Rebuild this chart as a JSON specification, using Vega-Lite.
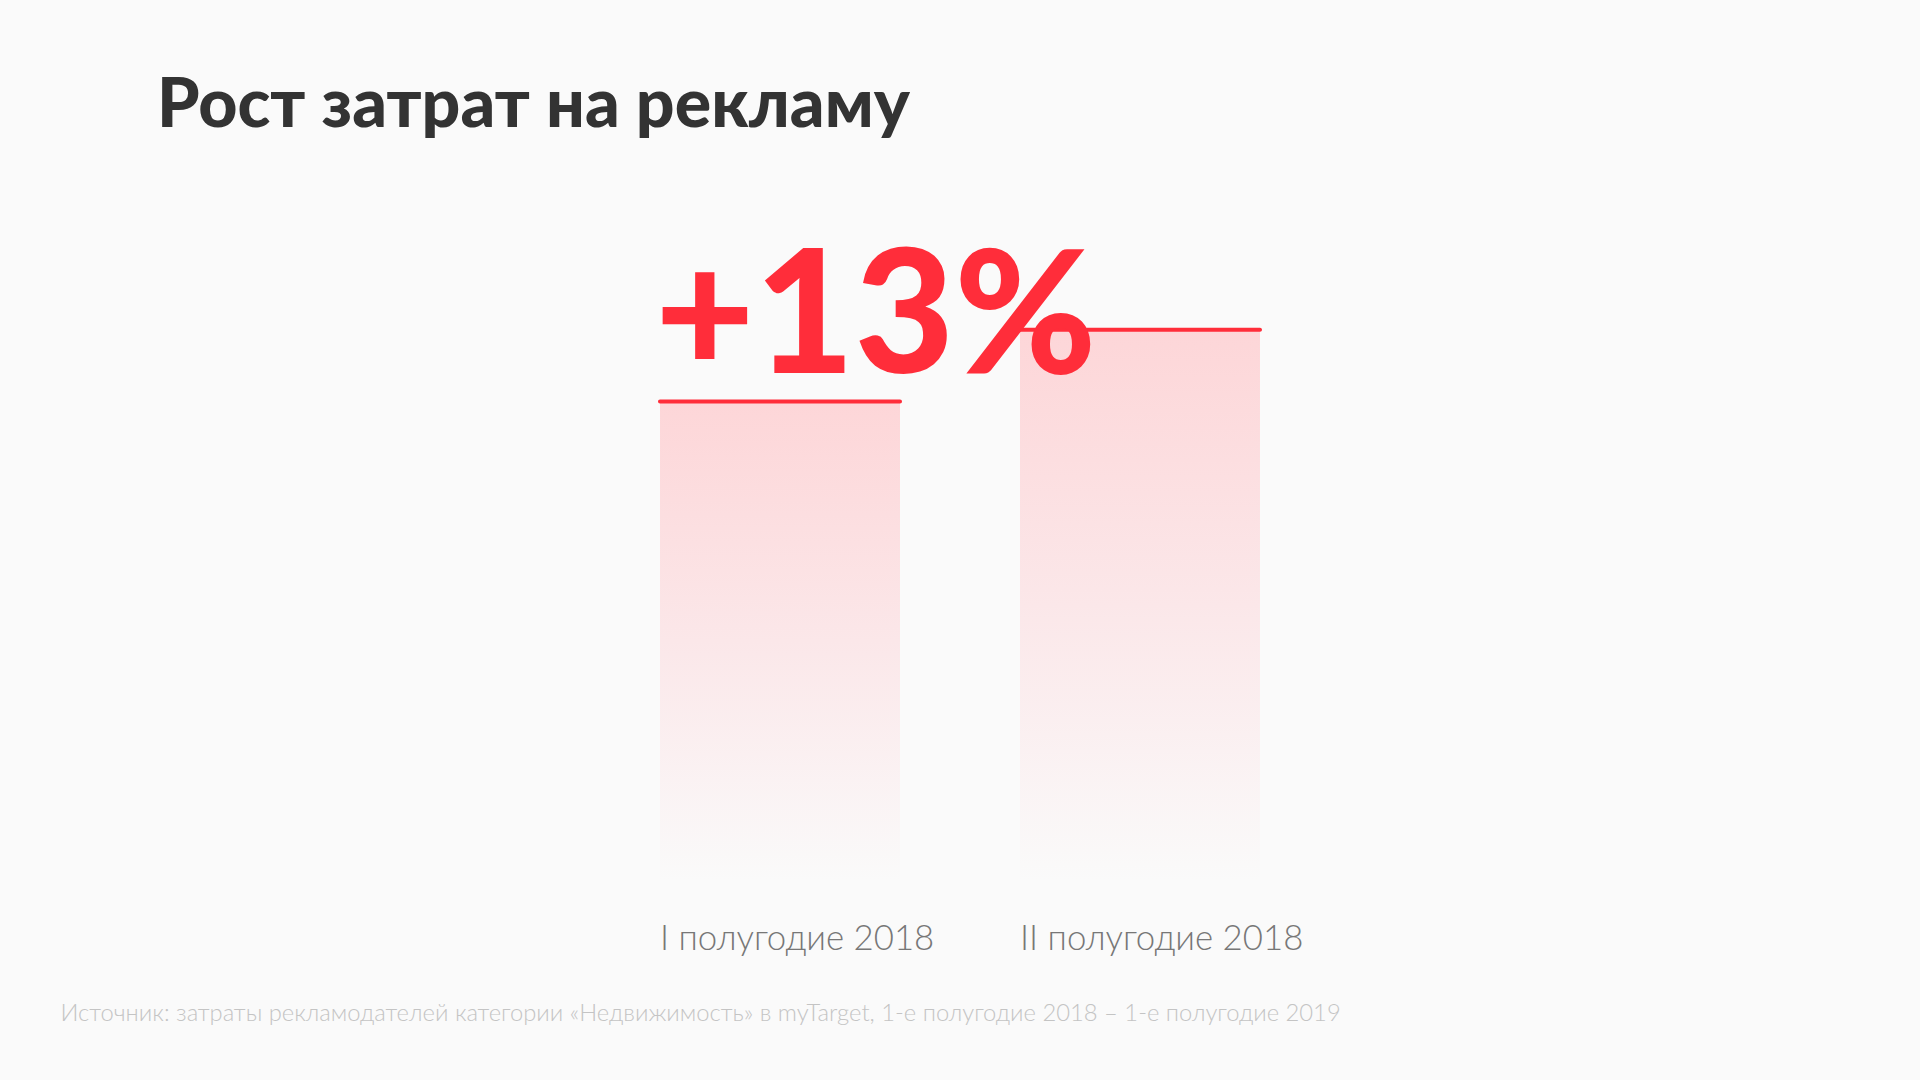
{
  "$schema": "https://vega.github.io/schema/vega-lite/v6.json",
  "width": 720,
  "height": 720,
  "autosize": "none",
  "padding": {"left": 600, "top": 160, "right": 600, "bottom": 200},
  "background": "#fafafa",
  "config": {"view": {"stroke": null}},
  "title": {
    "text": "Рост затрат на рекламу",
    "anchor": "start",
    "frame": "group",
    "orient": "top",
    "font": "Lato",
    "fontSize": 68,
    "fontWeight": 900,
    "color": "#333333",
    "baseline": "alphabetic",
    "offset": 34,
    "dx": -443,
    "dy": 69
  },
  "data": {"values": [
    {"period": "I полугодие 2018", "value": 100},
    {"period": "II полугодие 2018", "value": 115}
  ]},
  "encoding": {
    "x": {
      "field": "period",
      "type": "nominal",
      "sort": null,
      "scale": {"paddingInner": 0.3333, "paddingOuter": 0.1667},
      "axis": {
        "title": "Источник: затраты рекламодателей категории «Недвижимость» в myTarget, 1-е полугодие 2018  – 1-е полугодие 2019",
        "titleFont": "Lato",
        "titleFontSize": 23.8,
        "titleFontWeight": 300,
        "titleColor": "#c4c4c4",
        "titleAlign": "left",
        "titleAnchor": "start",
        "titleBaseline": "alphabetic",
        "titleX": -540,
        "titleY": 140,
        "labelAlign": "left",
        "labelOffset": -120,
        "labelLimit": 0,
        "labelBaseline": "alphabetic",
        "labelAngle": 0,
        "labelFont": "Lato",
        "labelFontSize": 34.8,
        "labelFontWeight": 300,
        "labelColor": "#777777",
        "labelPadding": 69,
        "ticks": false,
        "tickSize": 0,
        "domain": false,
        "grid": false
      }
    },
    "y": {
      "field": "value",
      "type": "quantitative",
      "scale": {"domain": [0, 150.5], "nice": false, "zero": true},
      "axis": null
    }
  },
  "layer": [
    {
      "mark": {
        "type": "bar",
        "fill": {
          "gradient": "linear",
          "x1": 0, "y1": 0, "x2": 0, "y2": 1,
          "stops": [
            {"offset": 0, "color": "#fdd6d8"},
            {"offset": 0.5, "color": "#fbe7e9"},
            {"offset": 1, "color": "#fafafa"}
          ]
        }
      }
    },
    {
      "mark": {"type": "tick", "orient": "horizontal", "thickness": 4, "size": 244, "color": "#ff2d3a", "opacity": 1, "cornerRadius": 2}
    },
    {
      "data": {"values": [{"period": "I полугодие 2018", "value": 100, "change": "+13%"}]},
      "mark": {"type": "text", "align": "left", "baseline": "alphabetic", "dy": -29, "dx": -5, "font": "Lato", "fontSize": 172, "fontWeight": 900, "color": "#ff2d3a"},
      "encoding": {
        "x": {"field": "period", "type": "nominal", "sort": null, "bandPosition": 0},
        "text": {"field": "change"}
      }
    }
  ]
}
